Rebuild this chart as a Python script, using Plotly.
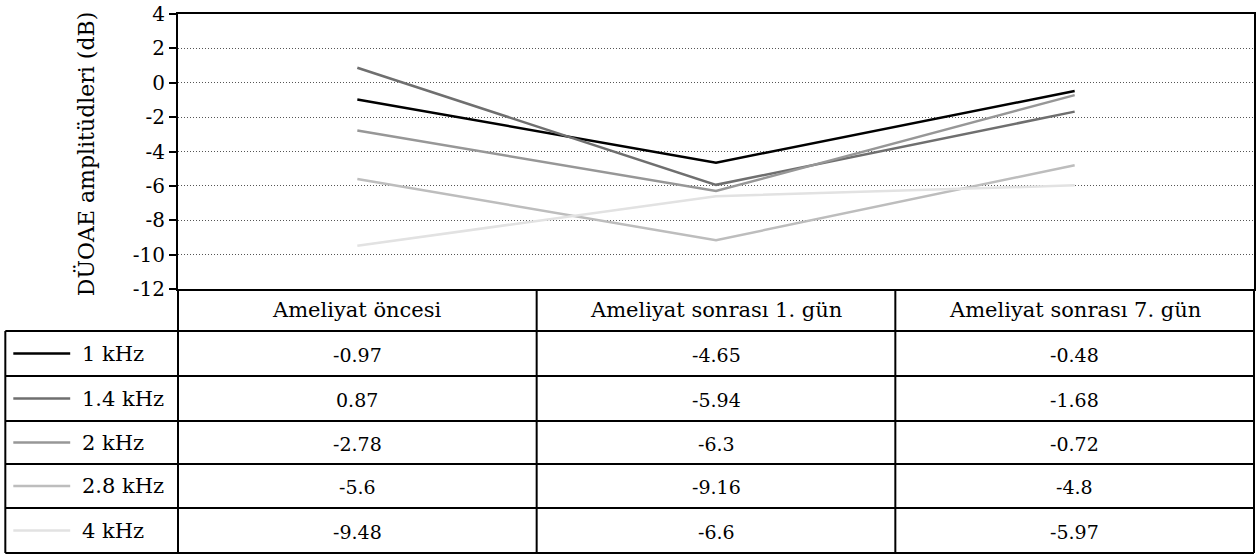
import plotly.graph_objects as go

# Measurement points and frequency series (DPOAE amplitudes, dB)
categories = ["Ameliyat öncesi", "Ameliyat sonrası 1. gün", "Ameliyat sonrası 7. gün"]
series_names = ["1 kHz", "1.4 kHz", "2 kHz", "2.8 kHz", "4 kHz"]
vals_1k = [-0.97, -4.65, -0.48]
vals_1k4 = [0.87, -5.94, -1.68]
vals_2k = [-2.78, -6.3, -0.72]
vals_2k8 = [-5.6, -9.16, -4.8]
vals_4k = [-9.48, -6.6, -5.97]
series_values = [vals_1k, vals_1k4, vals_2k, vals_2k8, vals_4k]
series_colors = ["#000000", "#6f6f6f", "#979797", "#bdbdbd", "#e2e2e2"]
y_ticks = [4, 2, 0, -2, -4, -6, -8, -10, -12]

W, H = 1258, 554
L, R, T, B = 178, 2, 14, 265
PW = W - L - R
PH = H - T - B
FONT = "DejaVu Serif"


def px(x):
    return (x - L) / PW


def py(y):
    return (H - B - y) / PH


x_pos = [i + 0.5 for i in range(len(categories))]

fig = go.Figure()
for name, vals, col in zip(series_names, series_values, series_colors):
    fig.add_trace(go.Scatter(x=x_pos, y=vals, mode="lines", name=name,
                             line=dict(color=col, width=2.5), showlegend=False))

shapes = []
ann = []
line_k = dict(color="black", width=2)

# data table geometry (pixels)
row_lines = [289, 331, 376, 421, 464, 508, 553]
col_edges = [L, L + PW / 3, L + 2 * PW / 3, W - R]
leg_left = 5

# horizontal rules
shapes.append(dict(type="line", xref="paper", yref="paper", x0=px(L), x1=px(W - R),
                   y0=py(row_lines[1]), y1=py(row_lines[1]), line=line_k))
for yl in row_lines[2:]:
    shapes.append(dict(type="line", xref="paper", yref="paper", x0=px(leg_left), x1=px(W - R),
                       y0=py(yl), y1=py(yl), line=line_k))
shapes.append(dict(type="line", xref="paper", yref="paper", x0=px(leg_left), x1=px(L),
                   y0=py(row_lines[1]), y1=py(row_lines[1]), line=line_k))
# vertical rules
for xc in col_edges:
    shapes.append(dict(type="line", xref="paper", yref="paper", x0=px(xc), x1=px(xc),
                       y0=py(row_lines[0]), y1=py(row_lines[-1]), line=line_k))
shapes.append(dict(type="line", xref="paper", yref="paper", x0=px(leg_left), x1=px(leg_left),
                   y0=py(row_lines[1]), y1=py(row_lines[-1]), line=line_k))

# header labels
for i, cat in enumerate(categories):
    cx = (col_edges[i] + col_edges[i + 1]) / 2
    ann.append(dict(x=px(cx), y=py((row_lines[0] + row_lines[1]) / 2), xref="paper", yref="paper",
                    text=cat, showarrow=False, font=dict(family=FONT, size=21, color="black"),
                    xanchor="center", yanchor="middle"))

# rows: legend key + values
for r, (name, vals, col) in enumerate(zip(series_names, series_values, series_colors)):
    yc = (row_lines[r + 1] + row_lines[r + 2]) / 2
    shapes.append(dict(type="line", xref="paper", yref="paper", x0=px(13), x1=px(70),
                       y0=py(yc), y1=py(yc), line=dict(color=col, width=2.5)))
    ann.append(dict(x=px(80), y=py(yc), xref="paper", yref="paper", text=name, showarrow=False,
                    font=dict(family=FONT, size=21, color="black"), xanchor="left", yanchor="middle"))
    for i, v in enumerate(vals):
        cx = (col_edges[i] + col_edges[i + 1]) / 2
        ann.append(dict(x=px(cx), y=py(yc + 1), xref="paper", yref="paper", text=str(v),
                        showarrow=False, font=dict(family=FONT, size=19, color="black"),
                        xanchor="center", yanchor="middle"))

# y-axis title
ann.append(dict(x=px(86), y=py(154), xref="paper", yref="paper", text="DÜOAE amplitüdleri (dB)",
                showarrow=False, textangle=-90, font=dict(family=FONT, size=22, color="black"),
                xanchor="center", yanchor="middle"))

fig.update_layout(
    width=W, height=H,
    margin=dict(l=L, r=R, t=T, b=B),
    paper_bgcolor="white", plot_bgcolor="white",
    shapes=shapes, annotations=ann,
    xaxis=dict(range=[0, 3], showticklabels=False, showgrid=False, zeroline=False,
               showline=True, linecolor="black", linewidth=2, mirror=True, ticks=""),
    yaxis=dict(range=[-12, 4], tickvals=y_ticks, ticktext=[str(t) for t in y_ticks],
               showgrid=True, gridcolor="#555555", griddash="1px,2px", gridwidth=1,
               zeroline=False, showline=True, linecolor="black", linewidth=2, mirror=True,
               ticks="outside", ticklen=7, tickwidth=1.5, tickcolor="black",
               tickfont=dict(family=FONT, size=20, color="black")),
)

fig.write_html("out.html")
